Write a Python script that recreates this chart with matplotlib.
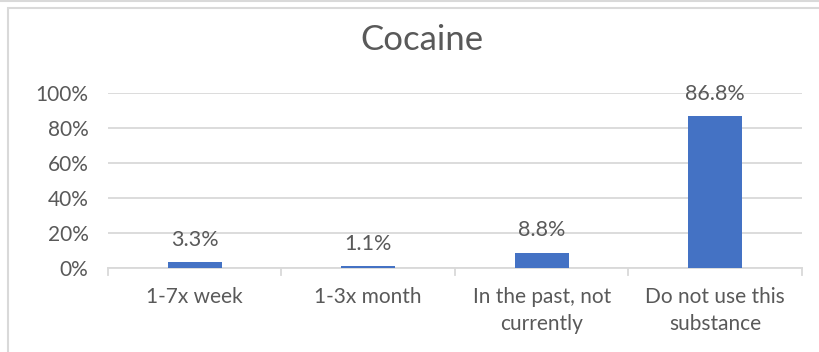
import matplotlib
matplotlib.use('Agg')
import matplotlib.pyplot as plt
from matplotlib.patches import Rectangle

categories = ['1-7x week', '1-3x month', 'In the past, not\ncurrently', 'Do not use this\nsubstance']
values = [3.3, 1.1, 8.8, 86.8]
yticks = [0, 20, 40, 60, 80, 100]

text_col = '#595959'
grid_col = '#D9D9D9'
bar_col = '#4472C4'

plt.rcParams['font.family'] = ['Lato', 'DejaVu Sans']

fig = plt.figure(figsize=(8.2, 3.52), dpi=100)
W, H = 820, 352

# chart frame
fig.patches.append(Rectangle((8 / W, -0.1), 1.0, (H - 8) / H + 0.1, transform=fig.transFigure,
                             fill=False, edgecolor=grid_col, linewidth=1.5))
fig.add_artist(plt.Line2D([0, 1], [1 - 1 / H, 1 - 1 / H], transform=fig.transFigure,
                          color=grid_col, linewidth=1.5))

ax = fig.add_axes([108 / W, 1 - 268 / H, (802 - 108) / W, (268 - 93) / H])
x = range(len(categories))
ax.bar(x, values, width=0.31, color=bar_col, zorder=3)
ax.set_xlim(-0.5, len(categories) - 0.5)
ax.set_ylim(0, 100)
ax.set_yticks(yticks)
ax.set_yticklabels([f'{v}%' for v in yticks], fontsize=15, color=text_col)
ax.set_xticks(list(x))
ax.set_xticklabels(categories, fontsize=15, color=text_col, linespacing=1.4)
ax.tick_params(axis='y', length=0, pad=14)
ax.tick_params(axis='x', length=0, pad=14)
ax.grid(axis='y', color=grid_col, linewidth=1.3, zorder=0)
for s in ['top', 'right', 'left']:
    ax.spines[s].set_visible(False)
ax.spines['bottom'].set_color(grid_col)
ax.spines['bottom'].set_linewidth(1.3)
# category separator ticks
for b in [-0.5, 0.5, 1.5, 2.5, 3.5]:
    ax.plot([b, b], [0, -4], color=grid_col, linewidth=1.3, clip_on=False, zorder=3)

for xi, v in zip(x, values):
    ax.annotate(f'{v}%', (xi, v), xytext=(0, 9), textcoords='offset points',
                ha='center', va='bottom', fontsize=15.5, color=text_col)

fig.text(422 / W, 1 - 40 / H, 'Cocaine', ha='center', va='center', fontsize=25, color=text_col)

fig.savefig('out.png', dpi=100)
